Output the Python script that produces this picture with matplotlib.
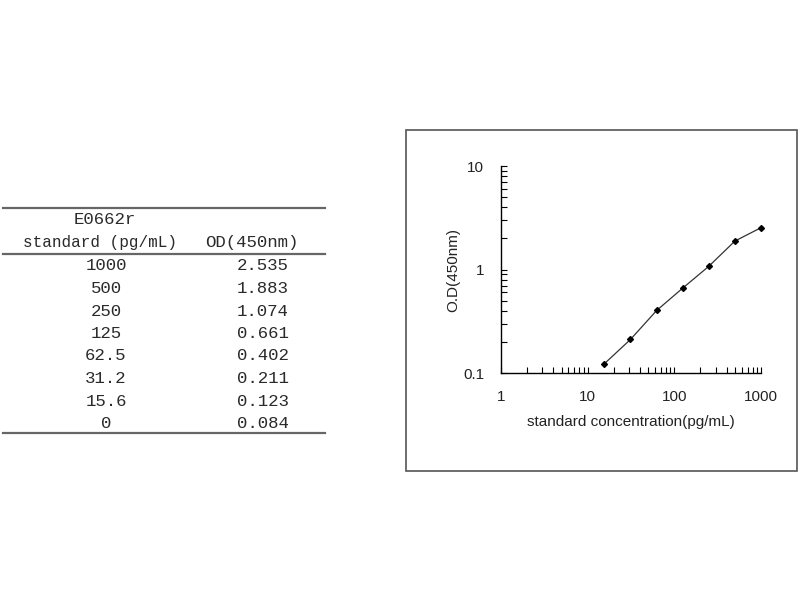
import numpy as np
import matplotlib
matplotlib.use("Agg")
import matplotlib.pyplot as plt
from matplotlib.lines import Line2D
from matplotlib.patches import Rectangle
from matplotlib.ticker import LogLocator, NullFormatter, FixedLocator, FixedFormatter

# standard curve data
conc_labels = ["1000", "500", "250", "125", "62.5", "31.2", "15.6", "0"]
conc = [1000, 500, 250, 125, 62.5, 31.2, 15.6, 0]
od = [2.535, 1.883, 1.074, 0.661, 0.402, 0.211, 0.123, 0.084]
od_labels = ["2.535", "1.883", "1.074", "0.661", "0.402", "0.211", "0.123", "0.084"]

x_ticks = [1, 10, 100, 1000]
y_ticks = [0.1, 1, 10]

W, H = 800, 600
fig = plt.figure(figsize=(8, 6), dpi=100, facecolor="white")

def fx(px):
    return px / W

def fy(py):
    return 1 - py / H

# ---- table (left) ----
mono = ["Liberation Mono", "Noto Sans CJK SC"]
tcol = "#2a2a2a"
tfs = 12.5
for yl in [208, 254, 433]:
    fig.add_artist(Line2D([fx(3), fx(325)], [fy(yl), fy(yl)], color="#666666", lw=1.6))

fig.text(fx(105), fy(220), "E0662r", ha="center", va="center", fontsize=tfs, family=mono, color=tcol)
fig.text(fx(100), fy(242), "standard (pg/mL)", ha="center", va="center", fontsize=11.5, family=mono, color=tcol)
fig.text(fx(252), fy(242), "OD(450nm)", ha="center", va="center", fontsize=tfs, family=mono, color=tcol)

row_y0, row_dy = 266, 22.5
for i, (c, o) in enumerate(zip(conc_labels, od_labels)):
    yy = fy(row_y0 + i * row_dy)
    fig.text(fx(106), yy, c, ha="center", va="center", fontsize=tfs, family=mono, color=tcol)
    fig.text(fx(289), yy, o, ha="right", va="center", fontsize=tfs, family=mono, color=tcol)

# ---- chart frame ----
fig.add_artist(Rectangle((fx(406), fy(471)), fx(797 - 406), (471 - 130) / H,
                         fill=False, edgecolor="#555555", lw=1.2))

# ---- chart ----
ax = fig.add_axes([fx(501), fy(373), fx(761 - 501), (373 - 166) / H])
x = np.array([c for c in conc if c > 0])
y = np.array([o for c, o in zip(conc, od) if c > 0])
ax.plot(x, y, color="#333333", lw=0.9, marker="D", markersize=3, markerfacecolor="black",
        markeredgecolor="black", clip_on=False)

ax.set_xscale("log")
ax.set_yscale("log")
ax.set_xlim(1, 1000)
ax.set_ylim(0.1, 10)
for s in ["top", "right"]:
    ax.spines[s].set_visible(False)
for s in ["left", "bottom"]:
    ax.spines[s].set_color("black")
    ax.spines[s].set_linewidth(1.0)

sans = ["Liberation Sans", "DejaVu Sans"]
ax.xaxis.set_major_locator(FixedLocator(x_ticks))
ax.xaxis.set_major_formatter(FixedFormatter([str(t) for t in x_ticks]))
ax.yaxis.set_major_locator(FixedLocator(y_ticks))
ax.yaxis.set_major_formatter(FixedFormatter(["0.1", "1", "10"]))
ax.xaxis.set_minor_locator(LogLocator(base=10, subs=np.arange(2, 10)))
ax.yaxis.set_minor_locator(LogLocator(base=10, subs=np.arange(2, 10)))
ax.xaxis.set_minor_formatter(NullFormatter())
ax.yaxis.set_minor_formatter(NullFormatter())
ax.tick_params(which="both", direction="in", length=4, width=0.8, color="black")
ax.tick_params(axis="x", which="major", pad=12, labelsize=11)
ax.tick_params(axis="y", which="major", pad=12, labelsize=11)
for lab in ax.get_xticklabels() + ax.get_yticklabels():
    lab.set_family(sans)
    lab.set_color("#222222")

ax.set_xlabel("standard concentration(pg/mL)", fontsize=11, family=sans, color="#222222", labelpad=8)
ax.set_ylabel("O.D(450nm)", fontsize=11, family=sans, color="#222222", labelpad=2)

fig.savefig("out.png", dpi=100, facecolor="white")
